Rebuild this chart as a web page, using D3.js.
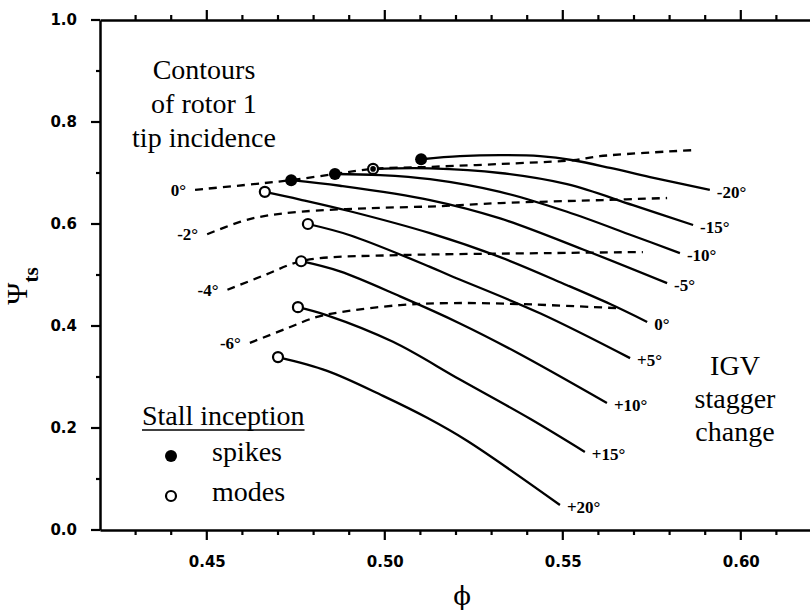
<!DOCTYPE html>
<html>
<head>
<meta charset="utf-8">
<script src="https://cdn.jsdelivr.net/npm/d3@7"></script>
<style>
  html, body { margin: 0; padding: 0; background: #fff; }
  svg { display: block; }
</style>
</head>
<body>
<svg id="chart" width="810" height="611"></svg>
<script>
// ---------- data ----------
const xMajorTicks = [0.45, 0.50, 0.55, 0.60];
const xMinorTicks = [0.43, 0.44, 0.46, 0.47, 0.48, 0.49, 0.51, 0.52, 0.53, 0.54, 0.56, 0.57, 0.58, 0.59, 0.61];
const yMajorTicks = [0.0, 0.2, 0.4, 0.6, 0.8, 1.0];
const yMinorTicks = [0.1, 0.3, 0.5, 0.7, 0.9];

// IGV stagger change speedlines (phi, psi_ts)
const staggerLabels = ["-20°", "-15°", "-10°", "-5°", "0°", "+5°", "+10°", "+15°", "+20°"];
const stallType = ["spike", "both", "spike", "spike", "mode", "mode", "mode", "mode", "mode"];
const speedlines = [
  [[0.5102,0.727],[0.5211,0.733],[0.5324,0.735],[0.5436,0.733],[0.5529,0.725],[0.5633,0.710],[0.5745,0.692],[0.5913,0.667]],
  [[0.4967,0.708],[0.5127,0.709],[0.5324,0.700],[0.5512,0.678],[0.5697,0.637],[0.5866,0.598]],
  [[0.4860,0.698],[0.4987,0.696],[0.5127,0.688],[0.5324,0.663],[0.5512,0.624],[0.5697,0.577],[0.5829,0.543]],
  [[0.4737,0.686],[0.4874,0.675],[0.5127,0.647],[0.5324,0.611],[0.5557,0.550],[0.5793,0.484]],
  [[0.4663,0.663],[0.4762,0.648],[0.4902,0.625],[0.5127,0.582],[0.5324,0.535],[0.5512,0.480],[0.5633,0.443],[0.5737,0.408]],
  [[0.4784,0.600],[0.4902,0.578],[0.5127,0.516],[0.5183,0.499],[0.5436,0.425],[0.5689,0.337]],
  [[0.4765,0.527],[0.4874,0.507],[0.5043,0.458],[0.5211,0.405],[0.5371,0.348],[0.5624,0.249]],
  [[0.4756,0.437],[0.4838,0.421],[0.5023,0.369],[0.5211,0.295],[0.5408,0.218],[0.5562,0.153]],
  [[0.4700,0.339],[0.4838,0.312],[0.4995,0.263],[0.5119,0.220],[0.5231,0.175],[0.5492,0.049]]
];

// contours of rotor 1 tip incidence (dashed)
const incidenceLabels = ["0°", "-2°", "-4°", "-6°"];
const incidenceContours = [
  [[0.4467,0.667],[0.4658,0.680],[0.4737,0.686],[0.4860,0.698],[0.4967,0.708],[0.5127,0.712],[0.5399,0.720],[0.5529,0.725],[0.5604,0.733],[0.5871,0.745]],
  [[0.4501,0.580],[0.4593,0.604],[0.4649,0.614],[0.4762,0.624],[0.4958,0.631],[0.5155,0.635],[0.5324,0.641],[0.5613,0.647],[0.5793,0.651]],
  [[0.4558,0.471],[0.4663,0.500],[0.4753,0.525],[0.4818,0.533],[0.5043,0.539],[0.5464,0.543],[0.5725,0.545]],
  [[0.4621,0.367],[0.4720,0.394],[0.4810,0.418],[0.4874,0.427],[0.5043,0.441],[0.5192,0.445],[0.5380,0.443],[0.5652,0.435]]
];

const annotationLines = ["Contours", "of rotor 1", "tip incidence"];
const igvLines = ["IGV", "stagger", "change"];
const legendTitle = "Stall inception";
const legendItems = [["spike", "spikes"], ["mode", "modes"]];

// ---------- chart ----------
const svg = d3.select("#chart");
const pL = 100, pT = 20, pR = 812, pB = 530;
const x = d3.scaleLinear().domain([0.42, 0.62]).range([pL, pR]);
const y = d3.scaleLinear().domain([0, 1]).range([pB, pT]);

const serif = "'Liberation Serif', 'Times New Roman', serif";
const tickFont = "'DejaVu Sans', sans-serif";

// axes (domain lines + labels)
function styleAxis(g) {
  g.select(".domain").attr("stroke", "#000").attr("stroke-width", 2.5);
  g.selectAll(".tick line").remove();
  g.selectAll(".tick text").attr("fill", "#000")
    .style("font-family", tickFont).style("font-weight", "bold").style("font-size", "15px");
}
svg.append("g").attr("transform", `translate(0,${pB})`)
  .call(d3.axisBottom(x).tickValues(xMajorTicks).tickSize(10).tickSizeOuter(0).tickPadding(16).tickFormat(d3.format(".2f")))
  .call(styleAxis);
svg.append("g").attr("transform", `translate(0,${pT})`)
  .call(d3.axisTop(x).tickValues(xMajorTicks).tickSizeOuter(0).tickFormat(""))
  .call(styleAxis);
svg.append("g").attr("transform", `translate(${pL},0)`)
  .call(d3.axisLeft(y).tickValues(yMajorTicks).tickSize(8).tickSizeOuter(0).tickPadding(15).tickFormat(d3.format(".1f")))
  .call(styleAxis);
svg.append("g").attr("transform", `translate(${pR},0)`)
  .call(d3.axisRight(y).tickValues(yMajorTicks).tickSizeOuter(0).tickFormat(""))
  .call(styleAxis);

// explicit tick marks (outward)
const tk = svg.append("g").attr("stroke", "#000").attr("stroke-width", 2.2);
function xTicks(vals, yPos, len) {
  tk.selectAll(null).data(vals).join("line")
    .attr("x1", d => x(d)).attr("x2", d => x(d))
    .attr("y1", yPos).attr("y2", yPos + len);
}
function yTicks(vals, xPos, len) {
  tk.selectAll(null).data(vals).join("line")
    .attr("y1", d => y(d)).attr("y2", d => y(d))
    .attr("x1", xPos).attr("x2", xPos + len);
}
xTicks(xMajorTicks, pB, 10);
xTicks(xMinorTicks, pB, 5);
xTicks(xMajorTicks, pT, -10);
xTicks(xMinorTicks, pT, -5);
yTicks(yMajorTicks, pL, -9);
yTicks(yMinorTicks, pL, -4);

// axis titles
const yt = svg.append("text")
  .attr("transform", `translate(27,${(pT + pB) / 2 + 11}) rotate(-90)`)
  .attr("text-anchor", "middle")
  .style("font-family", serif).attr("fill", "#000");
yt.append("tspan").style("font-size", "30px").text("Ψ");
yt.append("tspan").style("font-size", "21px").style("font-weight", "bold").attr("dy", 11).text("ts");

svg.append("text")
  .attr("x", 462).attr("y", 605)
  .attr("text-anchor", "middle")
  .style("font-family", "'DejaVu Serif', serif").style("font-size", "26px")
  .attr("fill", "#000").text("ϕ");

const line = d3.line().x(d => x(d[0])).y(d => y(d[1])).curve(d3.curveCatmullRom.alpha(0.5));

// dashed incidence contours
svg.append("g").selectAll("path").data(incidenceContours).join("path")
  .attr("d", line).attr("fill", "none").attr("stroke", "#000")
  .attr("stroke-width", 2.3).attr("stroke-dasharray", "8,6");

svg.append("g").selectAll("text").data(incidenceContours).join("text")
  .attr("x", d => x(d[0][0]) - 9)
  .attr("y", d => y(d[0][1]) + 6)
  .attr("text-anchor", "end")
  .style("font-family", serif).style("font-weight", "bold").style("font-size", "17px")
  .attr("fill", "#000")
  .text((d, i) => incidenceLabels[i]);

// solid speedlines
svg.append("g").selectAll("path").data(speedlines).join("path")
  .attr("d", line).attr("fill", "none").attr("stroke", "#000")
  .attr("stroke-width", 2.3);

svg.append("g").selectAll("text").data(speedlines).join("text")
  .attr("x", d => x(d[d.length - 1][0]) + 7)
  .attr("y", d => y(d[d.length - 1][1]) + 8)
  .style("font-family", serif).style("font-weight", "bold").style("font-size", "17px")
  .attr("fill", "#000")
  .text((d, i) => staggerLabels[i]);

// stall inception markers
function drawMarker(g, type, cx, cy) {
  if (type === "spike") {
    g.append("circle").attr("cx", cx).attr("cy", cy).attr("r", 6).attr("fill", "#000");
  } else if (type === "mode") {
    g.append("circle").attr("cx", cx).attr("cy", cy).attr("r", 5)
      .attr("fill", "#fff").attr("stroke", "#000").attr("stroke-width", 2.2);
  } else {
    g.append("circle").attr("cx", cx).attr("cy", cy).attr("r", 5)
      .attr("fill", "#fff").attr("stroke", "#000").attr("stroke-width", 2.2);
    g.append("circle").attr("cx", cx).attr("cy", cy).attr("r", 2.8).attr("fill", "#000");
  }
}
const mg = svg.append("g");
speedlines.forEach((s, i) => drawMarker(mg, stallType[i], x(s[0][0]), y(s[0][1])));

// annotations
const ann = svg.append("text").attr("text-anchor", "middle")
  .style("font-family", serif).style("font-size", "28px").attr("fill", "#000");
annotationLines.forEach((t, i) => ann.append("tspan").attr("x", 204).attr("y", 79 + i * 34).text(t));

const igv = svg.append("text").attr("text-anchor", "middle")
  .style("font-family", serif).style("font-size", "28px").attr("fill", "#000");
igvLines.forEach((t, i) => igv.append("tspan").attr("x", 735).attr("y", 375 + i * 33).text(t));

// legend
const lt = svg.append("text").attr("x", 142).attr("y", 425)
  .style("font-family", serif).style("font-size", "28px").attr("fill", "#000").text(legendTitle);
const bb = lt.node().getBBox();
svg.append("line").attr("x1", bb.x).attr("x2", bb.x + bb.width)
  .attr("y1", 430).attr("y2", 430).attr("stroke", "#000").attr("stroke-width", 1.6);
legendItems.forEach((it, i) => {
  const cy = 456 + i * 40;
  drawMarker(svg, it[0], 171, cy);
  svg.append("text").attr("x", 212).attr("y", cy + 5)
    .style("font-family", serif).style("font-size", "28px").attr("fill", "#000").text(it[1]);
});
</script>
</body>
</html>
